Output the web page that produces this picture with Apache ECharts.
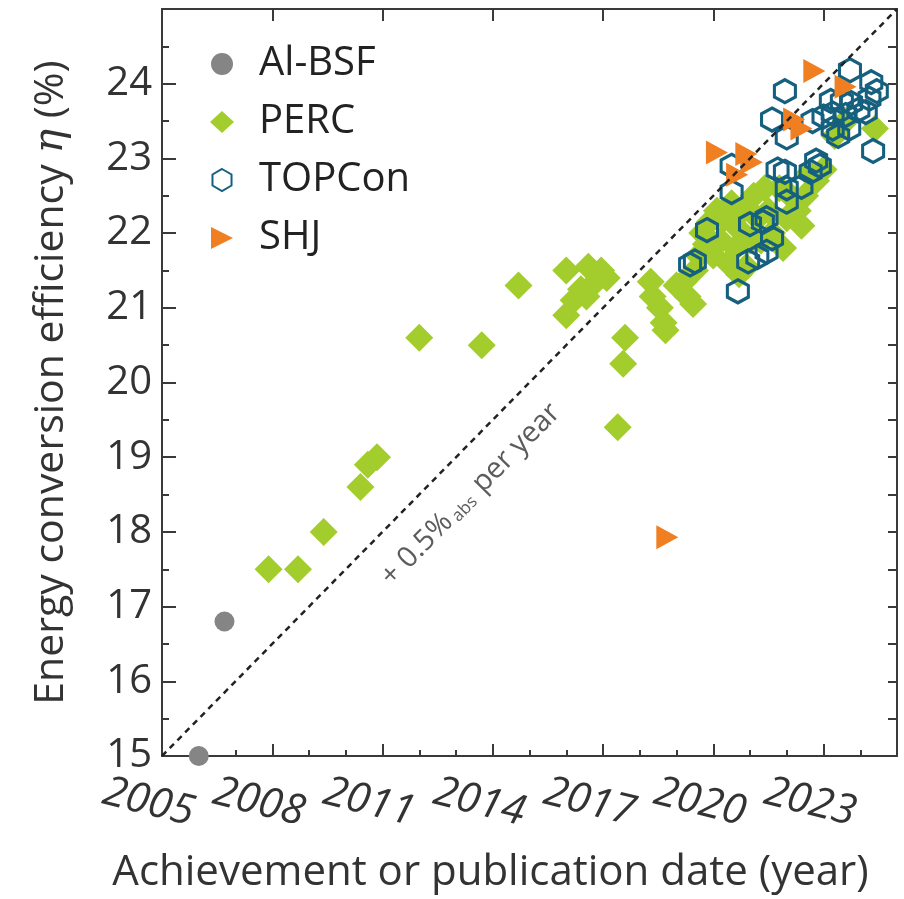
<!DOCTYPE html>
<html>
<head>
<meta charset="utf-8">
<script src="https://cdn.jsdelivr.net/npm/echarts@6/dist/echarts.min.js"></script>
<style>
html,body{margin:0;padding:0;background:#fff;}
#chart{width:904px;height:899px;}
</style>
</head>
<body>
<div id="chart"></div>
<script>
// ---- data ----
const alX = [2006.0, 2006.7];
const alY = [15.0, 16.8];

const percX = [2007.9, 2008.7, 2009.4, 2010.4, 2010.6, 2010.85, 2012.0, 2013.7, 2014.7,
  2016.0, 2016.6, 2016.95, 2017.1, 2016.8, 2016.4, 2016.55, 2016.2, 2016.0,
  2017.4, 2017.55, 2017.6, 2018.3, 2018.35, 2018.55, 2018.65, 2018.7,
  2019.0, 2019.2, 2019.3, 2019.45, 2019.5, 2019.6, 2019.8, 2019.7, 2019.9,
  2020.0, 2020.1, 2020.2, 2020.3, 2020.4, 2020.5, 2020.6, 2020.7, 2020.8, 2020.7,
  2021.0, 2021.1, 2021.2, 2021.3, 2021.4, 2021.5, 2021.6, 2021.8, 2021.9,
  2022.0, 2022.1, 2022.3, 2022.5, 2022.6, 2022.8, 2023.0, 2022.4, 2020.9,
  2023.3, 2023.6, 2024.4];
const percY = [17.5, 17.5, 18.0, 18.6, 18.9, 19.0, 20.6, 20.5, 21.3,
  21.5, 21.55, 21.5, 21.4, 21.35, 21.25, 21.15, 21.1, 20.9,
  19.4, 20.25, 20.6, 21.35, 21.15, 21.0, 20.8, 20.7,
  21.3, 21.35, 21.15, 21.05, 21.5, 21.7, 21.85, 22.0, 22.15,
  21.7, 22.3, 21.9, 22.2, 21.6, 22.4, 21.8, 22.05, 22.3, 21.45,
  21.9, 22.5, 22.2, 21.9, 22.6, 22.3, 22.0, 22.6, 21.8,
  22.2, 22.5, 22.3, 22.5, 22.8, 22.7, 22.85, 22.1, 21.55,
  23.3, 23.5, 23.4];

const topconX = [2019.37, 2019.5, 2019.83, 2020.5, 2020.5, 2020.67, 2020.95, 2021.2, 2021.45,
  2021.0, 2021.35, 2021.6, 2021.45, 2021.6, 2021.95, 2022.0, 2021.75, 2021.95,
  2022.0, 2022.4, 2022.0, 2022.65, 2022.8, 2022.7, 2023.0, 2023.25, 2023.2,
  2023.5, 2023.75, 2023.6, 2023.7, 2023.4, 2023.25, 2023.95, 2024.3, 2024.45,
  2024.25, 2024.15, 2024.35, 2023.72, 2022.9];
const topconY = [21.58, 21.62, 22.04, 22.9, 22.55, 21.22, 21.62, 21.68, 21.75,
  22.12, 22.15, 21.93, 22.2, 23.52, 23.9, 23.28, 22.85, 22.82,
  22.6, 22.62, 22.42, 22.82, 22.97, 23.5, 23.56, 23.6, 23.77,
  23.76, 23.74, 23.58, 23.4, 23.3, 23.4, 23.65, 24.02, 23.9,
  23.8, 23.62, 23.1, 24.18, 22.9];

const shjX = [2018.75, 2020.1, 2020.9, 2020.65, 2021.05, 2022.2, 2022.4, 2022.75, 2023.6];
const shjY = [17.93, 23.08, 23.06, 22.78, 22.95, 23.52, 23.4, 24.17, 23.96];

const trendX = [2005, 2025];
const trendY = [15, 25];
const trendLabelX = [2013.4];
const trendLabelY = [18.5];

const xTicks = [2005, 2008, 2011, 2014, 2017, 2020, 2023];
const yTicks = [15, 16, 17, 18, 19, 20, 21, 22, 23, 24];

const zip = (xs, ys) => xs.map((x, i) => [x, ys[i]]);

const FONT = '"Open Sans", "Noto Sans", sans-serif';
const AX = '#3a3a3a';
const HEX = 'path://M5,0 L9.33,2.5 L9.33,7.5 L5,10 L0.67,7.5 L0.67,2.5 Z';
const TRI = 'path://M0,0 L10,5 L0,10 Z';

const chart = echarts.init(document.getElementById('chart'), null, {renderer: 'canvas'});

const option = {
  backgroundColor: '#fff',
  animation: false,
  textStyle: {fontFamily: FONT},
  grid: {left: 162, right: 7, top: 9, bottom: 139, containLabel: false},
  legend: {
    orient: 'vertical',
    left: 205,
    top: 38,
    itemWidth: 24,
    itemHeight: 22,
    itemGap: 16,
    textStyle: {fontFamily: FONT, fontSize: 40, color: '#222', lineHeight: 42, padding: [0, 0, 0, 20]},
    data: ['Al-BSF', 'PERC', 'TOPCon', 'SHJ']
  },
  xAxis: [{
    type: 'value', min: 2005, max: 2025, interval: 3,
    position: 'bottom',
    axisLine: {show: true, lineStyle: {color: AX, width: 2}},
    axisTick: {show: true, inside: true, length: 12, lineStyle: {color: AX, width: 2}},
    minorTick: {show: true, splitNumber: 3, length: 6, lineStyle: {color: AX, width: 2}},
    splitLine: {show: false},
    axisLabel: {
      showMaxLabel: false,
      fontFamily: FONT, fontSize: 42, color: '#333', fontStyle: 'italic',
      rotate: -14, align: 'center', verticalAlign: 'middle', margin: 50,
      padding: [0, 28, 0, 0],
      formatter: v => xTicks.includes(v) ? String(v) : ''
    },
    name: 'Achievement or publication date (year)',
    nameLocation: 'middle', nameGap: 96,
    nameTextStyle: {fontFamily: FONT, fontSize: 42, color: '#333', padding: [0, 78, 0, 0]}
  }, {
    type: 'value', min: 2005, max: 2025, interval: 3,
    position: 'top',
    axisLine: {show: true, lineStyle: {color: AX, width: 2}},
    axisTick: {show: true, inside: true, length: 12, lineStyle: {color: AX, width: 2}},
    axisLabel: {show: false},
    splitLine: {show: false}
  }],
  yAxis: [{
    type: 'value', min: 15, max: 25, interval: 1,
    position: 'left',
    axisLine: {show: true, lineStyle: {color: AX, width: 2}},
    axisTick: {show: true, inside: true, length: 14, lineStyle: {color: AX, width: 2}},
    minorTick: {show: true, splitNumber: 2, length: 7, lineStyle: {color: AX, width: 2}},
    splitLine: {show: false},
    axisLabel: {
      showMaxLabel: false, margin: 10,
      fontFamily: FONT, fontSize: 40, color: '#333',
      formatter: v => yTicks.includes(v) ? String(v) : ''
    },
    name: '{t|Energy conversion efficiency }{i|η}{t| (%)}',
    nameLocation: 'middle', nameGap: 90, nameRotate: 90,
    nameTextStyle: {
      color: '#333',
      rich: {
        t: {fontFamily: FONT, fontSize: 41, color: '#333'},
        i: {fontFamily: '"DejaVu Serif", serif', fontStyle: 'italic', fontSize: 41, color: '#333'}
      }
    }
  }, {
    type: 'value', min: 15, max: 25, interval: 1,
    position: 'right',
    axisLine: {show: true, lineStyle: {color: AX, width: 2}},
    axisTick: {show: true, inside: true, length: 9, lineStyle: {color: AX, width: 2}},
    minorTick: {show: true, splitNumber: 2, length: 9, lineStyle: {color: AX, width: 2}},
    axisLabel: {show: false},
    splitLine: {show: false}
  }],
  series: [
    {
      name: 'Al-BSF', type: 'scatter', xAxisIndex: 0, yAxisIndex: 0,
      symbol: 'circle', symbolSize: 20,
      itemStyle: {color: '#858585', opacity: 1},
      data: zip(alX, alY), z: 3
    },
    {
      name: 'PERC', type: 'scatter',
      symbol: 'diamond', symbolSize: 28,
      itemStyle: {color: '#a2cd2c', opacity: 1},
      data: zip(percX, percY), z: 3
    },
    {
      name: 'TOPCon', type: 'scatter',
      symbol: HEX, symbolSize: [21, 23],
      itemStyle: {color: 'rgba(255,255,255,0)', borderColor: '#16607f', borderWidth: 3.2, opacity: 1},
      data: zip(topconX, topconY), z: 4
    },
    {
      name: 'SHJ', type: 'scatter',
      symbol: TRI, symbolSize: [22, 24],
      itemStyle: {color: '#f07f22', opacity: 1},
      data: zip(shjX, shjY), z: 5
    },
    {
      name: 'trend', type: 'line',
      data: zip(trendX, trendY),
      symbol: 'none', silent: true,
      lineStyle: {color: '#222', width: 2.5, type: [6, 5]},
      z: 6
    },
    {
      name: 'trendLabel', type: 'scatter',
      data: zip(trendLabelX, trendLabelY),
      symbolSize: 0, silent: true,
      label: {
        show: true, position: 'inside', rotate: 45.6,
        formatter: '{a|+ 0.5%}{s|abs}{a| per year}',
        rich: {
          a: {fontFamily: FONT, fontSize: 29, color: '#333'},
          s: {fontFamily: FONT, fontSize: 17, color: '#333', verticalAlign: 'bottom', padding: [10, 2, 0, 4]}
        }
      },
      z: 6
    }
  ]
};
chart.setOption(option);
</script>
</body>
</html>
